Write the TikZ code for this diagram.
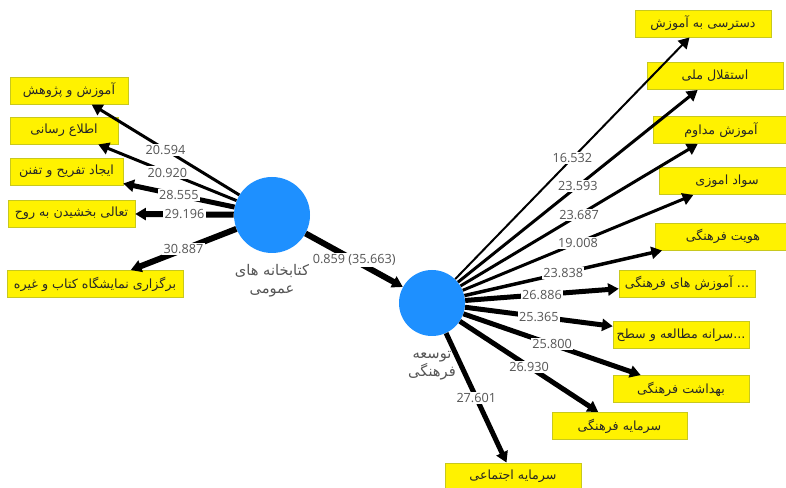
\documentclass[tikz,border=0pt]{standalone}
\usepackage{fontspec}
\setmainfont{Open Sans}
\newfontfamily\fa[Script=Arabic]{DejaVu Sans}
\usetikzlibrary{arrows.meta,positioning}
\TeXXeTstate=1
\definecolor{lvblue}{RGB}{30,144,255}
\definecolor{boxline}{RGB}{200,200,30}
\definecolor{valgray}{RGB}{85,85,85}
\newcommand{\rl}[1]{\beginR #1\endR}

\begin{document}
\begin{tikzpicture}[x=0.75pt, y=-0.75pt]
  \tikzset{bx/.style={draw=boxline, fill=yellow, minimum width=#1*0.75pt, minimum height=20.5pt,
                      inner sep=0pt, font=\fa\fontsize{9.5}{11}\selectfont, text=black!85},
           lv/.style={circle, fill=lvblue, minimum size=#1*1.5pt, inner sep=0pt},
           lvname/.style={align=center, text=valgray, font=\fa\fontsize{11}{13.5}\selectfont},
           lnk/.style={line width=#1*0.75pt, -{Triangle[length=8pt,width=9pt]}},
           val/.style={midway, fill=white, inner sep=1pt, text=valgray, font=\fontsize{9.5}{11}\selectfont}}
  \useasboundingbox (0,0) rectangle (786,488);
  \node[lv=38] (lib) at (272,215) {};
  \node[lv=33] (dev) at (432,303) {};
  \node[lvname, below=5pt of lib] (libname) {\rl{کتابخانه های}\\\rl{عمومی}};
  \node[lvname, below=8pt of dev] (devname) {\rl{توسعه}\\\rl{فرهنگی}};
  \node[bx=118] (l1) at (69,90.5) {\rl{آموزش و پژوهش}};
  \node[bx=108] (l2) at (64,130.5) {\rl{اطلاع رسانی}};
  \node[bx=113] (l3) at (66.5,171.5) {\rl{ایجاد تفریح و تفنن}};
  \node[bx=127] (l4) at (71.5,213.5) {\rl{تعالی بخشیدن به روح}};
  \node[bx=176] (l5) at (95,284) {\rl{برگزاری نمایشگاه کتاب و غیره}};
  \node[bx=136] (r1) at (703,23.5) {\rl{دسترسی به آموزش}};
  \node[bx=136] (r2) at (715,76) {\rl{استقلال ملی}};
  \node[bx=136] (r3) at (721,130) {\rl{آموزش مداوم}};
  \node[bx=136] (r4) at (727,181) {\rl{سواد اموزی}};
  \node[bx=136] (r5) at (723,236.5) {\rl{هویت فرهنگی}};
  \node[bx=136] (r6) at (687,283.5) {\rl{آموزش های فرهنگی} ...};
  \node[bx=136] (r7) at (681,335) {\rl{سرانه مطالعه و سطح}...};
  \node[bx=136] (r8) at (681,389) {\rl{بهداشت فرهنگی}};
  \node[bx=135] (r9) at (619.5,426) {\rl{سرمایه فرهنگی}};
  \node[bx=136] (r10) at (513,476.5) {\rl{سرمایه اجتماعی}};
  \draw[lnk=3] (lib) -- node[val]{20.594} (l1);
  \draw[lnk=3] (lib) -- node[val]{20.920} (l2);
  \draw[lnk=5] (lib) -- node[val]{28.555} (l3);
  \draw[lnk=6] (lib) -- node[val]{29.196} (l4);
  \draw[lnk=6] (lib) -- node[val]{30.887} (l5);
  \draw[lnk=6] (lib) -- node[val]{0.859 (35.663)} (dev);
  \draw[lnk=2] (dev) -- node[val]{16.532} (r1);
  \draw[lnk=3] (dev) -- node[val]{23.593} (r2);
  \draw[lnk=3] (dev) -- node[val]{23.687} (r3);
  \draw[lnk=3] (dev) -- node[val]{19.008} (r4);
  \draw[lnk=3.5] (dev) -- node[val]{23.838} (r5);
  \draw[lnk=5] (dev) -- node[val]{26.886} (r6);
  \draw[lnk=5] (dev) -- node[val]{25.365} (r7);
  \draw[lnk=5] (dev) -- node[val]{25.800} (r8);
  \draw[lnk=5] (dev) -- node[val]{26.930} (r9);
  \draw[lnk=5] (dev) -- node[val]{27.601} (r10);
\end{tikzpicture}
\end{document}
